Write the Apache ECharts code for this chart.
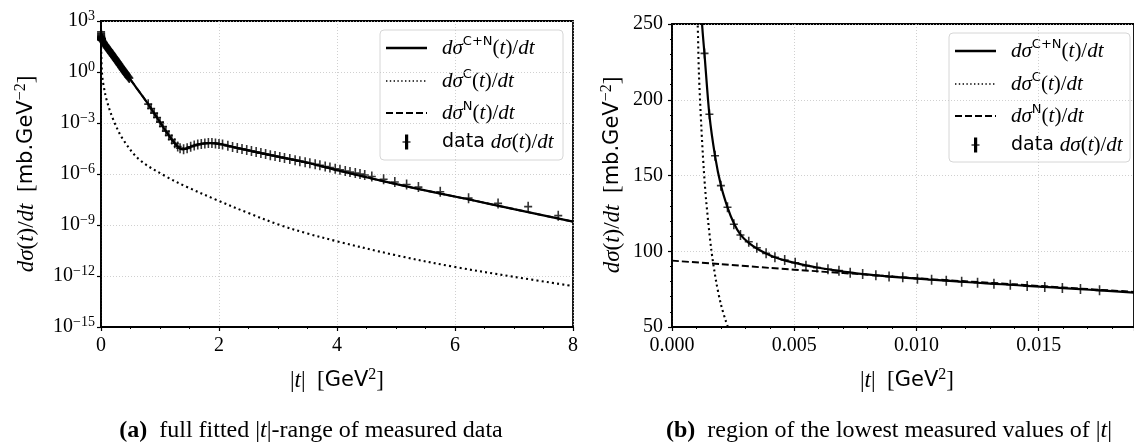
<!DOCTYPE html>
<html><head><meta charset="utf-8">
<script src="https://cdn.jsdelivr.net/npm/echarts@6/dist/echarts.min.js"></script>
<style>html,body{margin:0;padding:0;background:#fff}#c{width:1134px;height:446px}</style>
</head><body><div id="c"></div>
<script>
// ================= DATA =================
// Panel (a): |t| in GeV^2, values given as log10( dσ/dt [mb/GeV^2] )
const aCnT   = [0.0011,0.0013,0.0016,0.002,0.003,0.005,0.0075,0.01,0.0185,0.05,0.1,0.15,0.2,0.25,0.3,0.35,0.4,0.45,0.5,0.6,0.7,0.8,0.9,1.0,1.1,1.2,1.3,1.38,1.45,1.55,1.65,1.75,1.85,1.95,2.1,2.3,2.55,3.0,3.5,4.0,4.78,5.35,6.2,7.0,8.0];
const aCnLog = [2.48,2.36,2.26,2.156,2.03,1.966,1.932,1.913,1.863,1.70,1.45,1.22,0.98,0.74,0.50,0.25,0.01,-0.22,-0.45,-0.93,-1.40,-1.89,-2.42,-2.95,-3.48,-3.97,-4.38,-4.55,-4.50,-4.36,-4.26,-4.20,-4.18,-4.20,-4.30,-4.46,-4.65,-4.98,-5.34,-5.78,-6.42,-6.86,-7.47,-8.07,-8.80];
const aCT    = [0.001,0.002,0.005,0.01,0.02,0.039,0.096,0.21,0.38,0.66,1.11,1.45,1.96,2.5,3.03,3.5,3.99,5.0,5.97,7.0,8.0];
const aCLog  = [2.41,1.81,1.02,0.41,-0.20,-0.70,-1.65,-2.82,-4.00,-5.18,-6.16,-6.75,-7.53,-8.30,-9.00,-9.50,-9.95,-10.78,-11.45,-12.05,-12.59];
const aNLowT = [0,0.005,0.01];
const aNLowV = [93.8,88.0,82.4];
const aDataT = [0.02,0.03,0.04,0.05,0.06,0.07,0.08,0.09,0.10,0.11,0.12,0.13,0.14,0.15,0.16,0.17,0.18,0.19,0.20,0.21,0.22,0.23,0.24,0.25,0.26,0.27,0.28,0.29,0.30,0.31,0.32,0.33,0.34,0.35,0.36,0.37,0.38,0.39,0.40,0.41,0.42,0.43,0.44,0.45,0.46,0.47,0.48,
  0.80,0.85,0.90,0.95,1.00,1.05,1.10,1.15,1.20,1.25,1.30,
  1.34,1.40,1.46,1.52,1.58,1.64,1.70,1.76,1.82,1.88,1.94,2.00,2.06,
  2.15,2.23,2.31,2.39,2.47,2.55,2.63,2.71,2.79,2.87,2.95,3.03,3.11,3.20,3.29,
  3.37,3.46,3.54,3.63,3.71,3.80,3.88,3.97,4.05,4.14,4.22,4.31,4.39,4.47,4.59,4.79,4.98,5.18,5.38,5.75,6.23,6.73,7.24,7.75];
const aDataLog = [1.86,1.81,1.76,1.70,1.65,1.60,1.55,1.50,1.45,1.40,1.36,1.31,1.27,1.22,1.17,1.12,1.08,1.03,0.98,0.93,0.88,0.84,0.79,0.74,0.69,0.64,0.60,0.55,0.50,0.45,0.40,0.35,0.30,0.25,0.20,0.15,0.11,0.06,0.01,-0.04,-0.08,-0.13,-0.17,-0.22,-0.27,-0.31,-0.36,
  -1.89,-2.15,-2.42,-2.68,-2.95,-3.21,-3.48,-3.73,-3.97,-4.19,-4.38,
  -4.48,-4.54,-4.49,-4.40,-4.33,-4.27,-4.23,-4.20,-4.18,-4.18,-4.20,-4.23,-4.27,
  -4.34,-4.41,-4.47,-4.53,-4.59,-4.65,-4.71,-4.77,-4.83,-4.89,-4.94,-5.00,-5.06,-5.12,-5.19,
  -5.25,-5.31,-5.37,-5.43,-5.49,-5.56,-5.62,-5.69,-5.75,-5.82,-5.88,-5.94,-6.00,-6.06,-6.15,-6.31,-6.47,-6.62,-6.77,-7.04,-7.42,-7.73,-7.92,-8.45];

// Panel (b): |t| in GeV^2, dσ/dt in mb/GeV^2
const bDataT = [0.00133,0.00153,0.00176,0.00200,0.00227,0.00253,0.00280,0.00314,0.00347,0.00385,0.00421,0.00461,0.00504,0.00548,0.00593,0.00638,0.00683,0.00729,0.00780,0.00834,0.00888,0.00944,0.01004,0.01062,0.01122,0.01185,0.01250,0.01317,0.01384,0.01453,0.01525,0.01597,0.01671,0.01749];
const bDataV = [230.6,190.4,163.0,143.3,129.0,117.8,110.7,106.3,102.3,98.6,96.0,94.2,92.4,90.5,89.2,88.1,87.2,85.8,85.0,84.1,83.4,82.8,81.9,81.2,80.6,79.9,79.2,78.6,77.9,77.1,76.4,75.7,75.1,74.2];
const bCnT = [0.00105,0.00115,0.00123,0.00133,0.00153,0.00176,0.002,0.00227,0.00253,0.0028,0.00314,0.00347,0.00385,0.00421,0.00461,0.00504,0.00548,0.00593,0.00638,0.00683,0.00729,0.0078,0.00834,0.00888,0.00944,0.01004,0.0106,0.0112,0.0118,0.0125,0.0132,0.0138,0.0145,0.0152,0.016,0.0167,0.0175,0.0189];
const bCnV = [330,280,250,230,190,163,143.5,129,118.5,111,105.5,101.8,98.5,96,94,92.3,90.7,89.3,88.1,87,86,85,84.1,83.3,82.6,81.9,81.2,80.6,79.9,79.2,78.5,77.9,77.2,76.5,75.7,75.0,74.2,72.7];
const bCT = [0.00095,0.001,0.00105,0.0011,0.0012,0.0013,0.0014,0.0016,0.0018,0.002,0.0022,0.0024];
const bCV = [290,265,250,218,182,154,133,102,80.5,65,54,45];
const bNT = [0,0.002,0.004,0.006,0.008,0.010,0.012,0.014,0.016,0.0189];
const bNV = [93.8,91.5,89.0,86.7,84.5,82.2,80.2,78.2,76.1,73.2];

// axis ticks
const aXTicks = [0,2,4,6,8];
const aYTickExp = [-15,-12,-9,-6,-3,0,3];
const bXTicks = [0,0.005,0.010,0.015];
const bXMax = 0.0189;
const bYTicks = [50,100,150,200,250];

// ================= CHART =================
const zipLin = (t, v) => t.map((x, i) => [x, v[i]]);
const zipLog = (t, e) => t.map((x, i) => [x, Math.pow(10, e[i])]);

const aCn = zipLog(aCnT, aCnLog);
const aC = zipLog(aCT, aCLog);
const aN = zipLin(aNLowT, aNLowV).concat(aCn.filter(p => p[0] >= 0.0185));
const aData = zipLin(bDataT, bDataV).concat(zipLog(aDataT, aDataLog));

const serif = "'Liberation Serif','DejaVu Serif',serif";
const sans = "'DejaVu Sans','Liberation Sans',sans-serif";
function mkRich(fs) {
  return {
    r:   {fontFamily: serif, fontSize: fs, lineHeight: Math.round(fs * 1.2), color: '#000'},
    i:   {fontFamily: serif, fontStyle: 'italic', fontSize: fs, lineHeight: Math.round(fs * 1.2), color: '#000'},
    sf:  {fontFamily: sans, fontSize: Math.round(fs * 0.9), lineHeight: Math.round(fs * 1.2), color: '#000'},
    sup: {fontFamily: sans, fontSize: Math.round(fs * 0.64), lineHeight: Math.round(fs * 0.66), verticalAlign: 'top', color: '#000'},
    supr:{fontFamily: serif, fontSize: Math.round(fs * 0.7), lineHeight: Math.round(fs * 0.7), verticalAlign: 'top', color: '#000'},
    b:   {fontFamily: serif, fontWeight: 'bold', fontSize: fs, lineHeight: Math.round(fs * 1.2), color: '#000'}
  };
}
const RICH = mkRich(20);
const RICH_NAME = mkRich(23);
const RICH_LEG = mkRich(21);
const RICH_CAP = mkRich(24);

const PLUS = 'path://M0,4.2H10V5.8H0Z M4.0,0H6.0V10H4.0Z';

function axisBase(extra) {
  return Object.assign({
    axisLine: {show: true, onZero: false, lineStyle: {color: '#000', width: 1.8}},
    axisTick: {show: true, inside: false, length: 4, lineStyle: {color: '#000', width: 1.2}},
    minorTick: {show: true, length: 2, lineStyle: {color: '#000', width: 1}},
    splitLine: {show: true, lineStyle: {color: '#c4c4c4', width: 0.8, type: [1, 2]}},
    axisLabel: {color: '#000', fontFamily: serif, fontSize: 20, margin: 6, rich: RICH}
  }, extra);
}

const lineSolid = {color: '#000', width: 2.2};
const lineDot = {color: '#000', width: 2.1, type: [2, 3.2]};
const lineDash = {color: '#000', width: 1.9, type: [7, 3]};

function lineSeries(xi, data, style, z, sm) {
  return {type: 'line', xAxisIndex: xi, yAxisIndex: xi, data: data, showSymbol: false,
    smooth: sm, lineStyle: style, clip: true, z: z, silent: true};
}
function dataSeries(xi, data) {
  return {type: 'scatter', xAxisIndex: xi, yAxisIndex: xi, data: data, symbol: PLUS,
    symbolSize: [8, 10], itemStyle: {color: '#000'}, clip: true, z: 3, silent: true};
}

const yName = '{i|dσ}{r|(}{i|t}{r|)/}{i|dt}{r|  [}{sf|mb.GeV}{supr|−2}{r|]}';
const xName = '{r||}{i|t}{r||  [}{sf|GeV}{supr|2}{r|]}';
const legTexts = [
  '{i|dσ}{sup|C+N}{r|(}{i|t}{r|)/}{i|dt}',
  '{i|dσ}{sup|C}{r|(}{i|t}{r|)/}{i|dt}',
  '{i|dσ}{sup|N}{r|(}{i|t}{r|)/}{i|dt}',
  '{sf|data }{i|dσ}{r|(}{i|t}{r|)/}{i|dt}'
];

function legend(x, y, w, h) {
  const rows = [18, 51, 83, 112];
  const els = [
    {type: 'rect', shape: {x: x, y: y, width: w, height: h, r: 4},
      style: {fill: 'rgba(255,255,255,0.85)', stroke: '#d6d6d6', lineWidth: 1}},
    {type: 'line', shape: {x1: x + 6, y1: y + rows[0], x2: x + 47, y2: y + rows[0]}, style: {stroke: '#000', lineWidth: 2.4}},
    {type: 'line', shape: {x1: x + 6, y1: y + rows[1], x2: x + 47, y2: y + rows[1]}, style: {stroke: '#000', lineWidth: 1.5, lineDash: [1.4, 2.4]}},
    {type: 'line', shape: {x1: x + 6, y1: y + rows[2], x2: x + 47, y2: y + rows[2]}, style: {stroke: '#000', lineWidth: 2, lineDash: [7, 3]}},
    {type: 'rect', shape: {x: x + 25, y: y + rows[3] - 7.5, width: 3.2, height: 15}, style: {fill: '#000'}},
    {type: 'rect', shape: {x: x + 22.5, y: y + rows[3] - 0.6, width: 8, height: 1.2}, style: {fill: '#000'}}
  ];
  rows.forEach((ry, k) => {
    els.push({type: 'text', x: x + 62, y: y + ry,
      style: {text: legTexts[k], rich: RICH_LEG, align: 'left', verticalAlign: 'middle'}});
  });
  return els;
}

const graphics = [].concat(
  legend(380, 30, 183, 130),
  legend(949, 33, 181, 129),
  [
    {type: 'text', x: 27, y: 174, rotation: Math.PI / 2,
      style: {text: yName, rich: RICH_NAME, align: 'center', verticalAlign: 'middle'}},
    {type: 'text', x: 613, y: 175, rotation: Math.PI / 2,
      style: {text: yName, rich: RICH_NAME, align: 'center', verticalAlign: 'middle'}},
    {type: 'text', x: 337, y: 381, style: {text: xName, rich: RICH_NAME, align: 'center', verticalAlign: 'middle'}},
    {type: 'text', x: 907, y: 381, style: {text: xName, rich: RICH_NAME, align: 'center', verticalAlign: 'middle'}},
    {type: 'text', x: 311, y: 431, style: {text: '{b|(a)}{r|  full fitted |}{i|t}{r||-range of measured data}', rich: RICH_CAP, align: 'center', verticalAlign: 'middle'}},
    {type: 'text', x: 889, y: 431, style: {text: '{b|(b)}{r|  region of the lowest measured values of |}{i|t}{r||}', rich: RICH_CAP, align: 'center', verticalAlign: 'middle'}}
  ]
);

const chart = echarts.init(document.getElementById('c'), null, {renderer: 'canvas'});
chart.setOption({
  animation: false,
  backgroundColor: '#fff',
  grid: [
    {left: 101, top: 21, width: 472, height: 306, show: true, borderColor: '#000', borderWidth: 1.8, backgroundColor: 'transparent'},
    {left: 672, top: 24, width: 470, height: 303, show: true, borderColor: '#000', borderWidth: 1.8, backgroundColor: 'transparent'}
  ],
  xAxis: [
    axisBase({type: 'value', gridIndex: 0, min: aXTicks[0], max: aXTicks[aXTicks.length - 1], interval: aXTicks[1] - aXTicks[0],
      minorTick: {show: true, splitNumber: 4, length: 2, lineStyle: {color: '#000', width: 1}},
      axisLabel: {color: '#000', fontFamily: serif, fontSize: 20, margin: 9}}),
    axisBase({type: 'value', gridIndex: 1, min: bXTicks[0], max: bXMax, interval: bXTicks[1] - bXTicks[0],
      minorTick: {show: true, splitNumber: 5, length: 2, lineStyle: {color: '#000', width: 1}},
      axisLabel: {color: '#000', fontFamily: serif, fontSize: 20, margin: 9, showMaxLabel: false,
        formatter: v => v.toFixed(3)}})
  ],
  yAxis: [
    axisBase({type: 'log', logBase: 10, gridIndex: 0, min: Math.pow(10, aYTickExp[0]), max: Math.pow(10, aYTickExp[aYTickExp.length - 1]),
      interval: aYTickExp[1] - aYTickExp[0], minorTick: {show: false},
      axisLabel: {color: '#000', margin: 6, rich: RICH, formatter: v => {
        const e = Math.round(Math.log10(v));
        return '{r|10}{supr|' + (e < 0 ? '−' + (-e) : e) + '}';
      }}}),
    axisBase({type: 'value', gridIndex: 1, min: bYTicks[0], max: bYTicks[bYTicks.length - 1], interval: bYTicks[1] - bYTicks[0],
      minorTick: {show: true, splitNumber: 5, length: 2, lineStyle: {color: '#000', width: 1}},
      axisLabel: {color: '#000', fontFamily: serif, fontSize: 20, margin: 9}})
  ],
  series: [
    dataSeries(0, aData),
    lineSeries(0, aN, lineDash, 5, 0.2),
    lineSeries(0, aC, lineDot, 5, 0.35),
    lineSeries(0, aCn, lineSolid, 6, 0.2),
    dataSeries(1, zipLin(bDataT, bDataV)),
    lineSeries(1, zipLin(bNT, bNV), lineDash, 5, 0.3),
    lineSeries(1, zipLin(bCT, bCV), lineDot, 5, 0.3),
    lineSeries(1, zipLin(bCnT, bCnV), lineSolid, 6, 0.25)
  ],
  graphic: graphics
});
</script></body></html>
